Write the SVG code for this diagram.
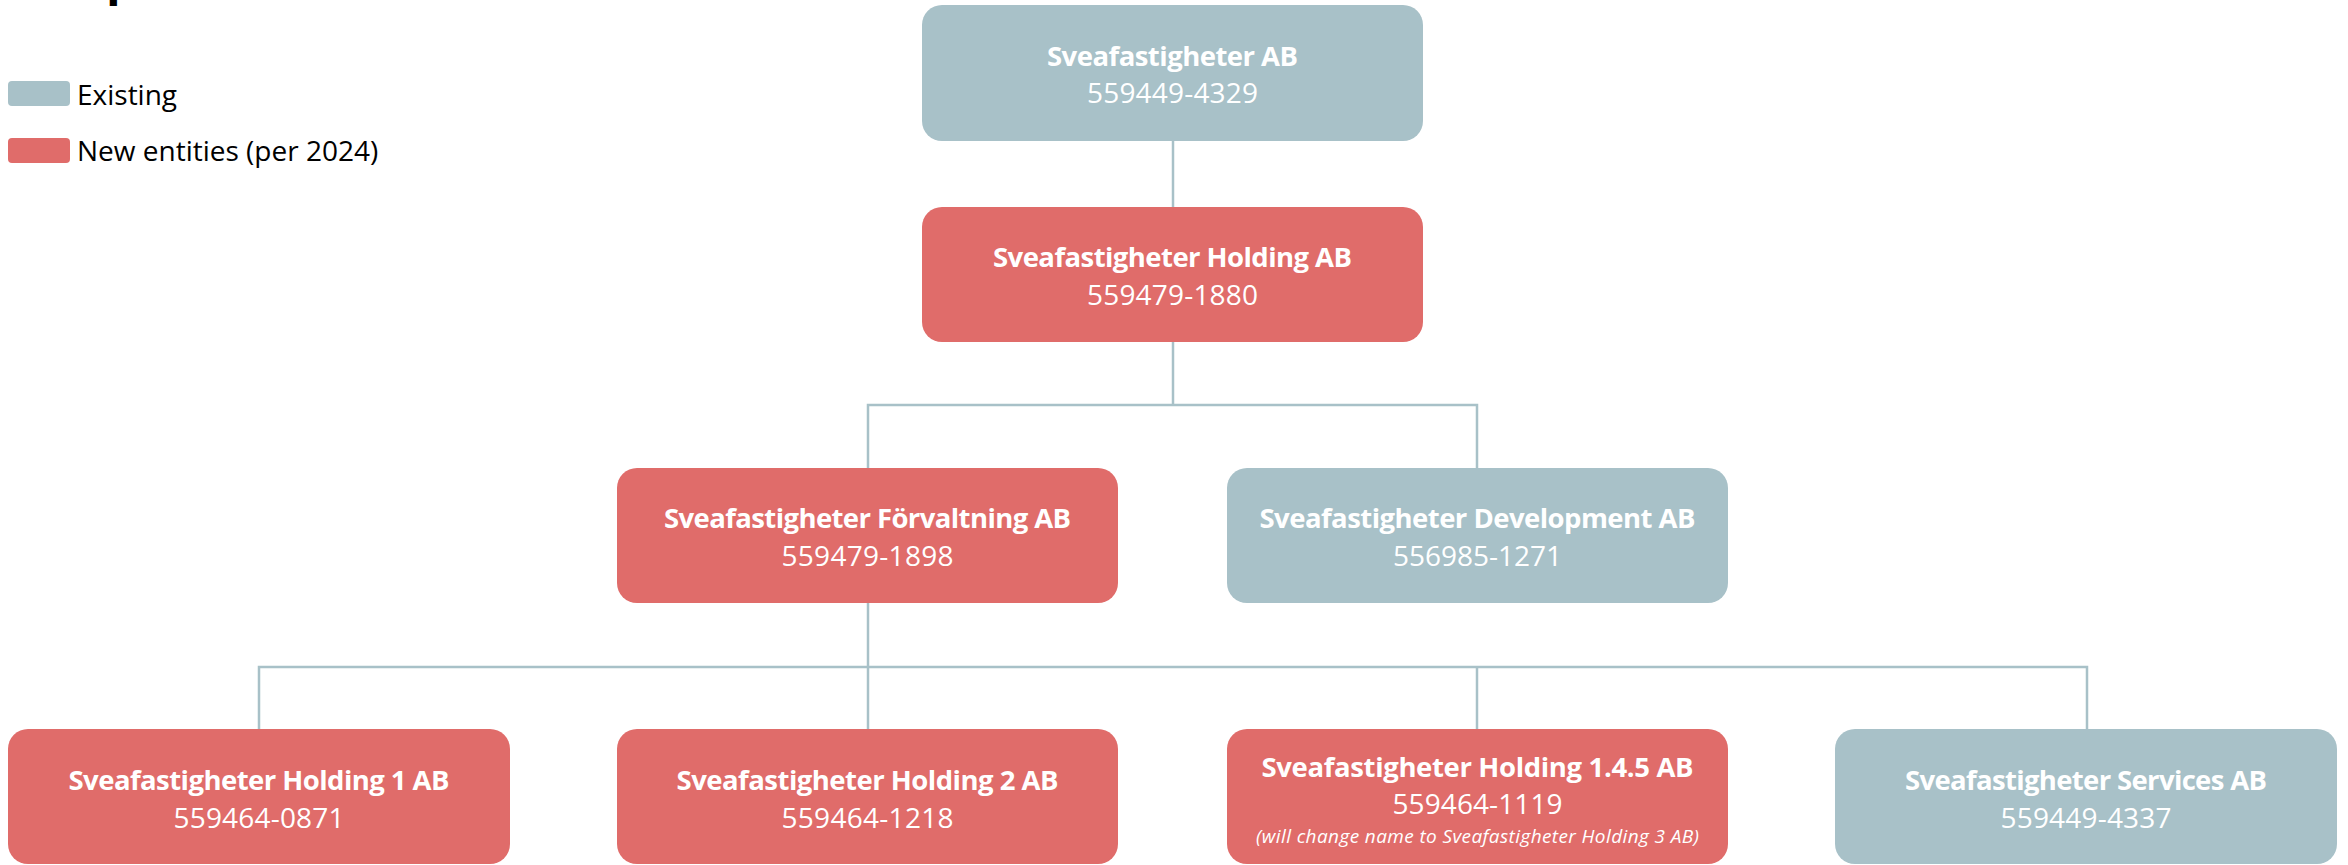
<svg xmlns="http://www.w3.org/2000/svg" width="2348" height="865" viewBox="0 0 2348 865">
<style>
.exist{fill:#A8C1C8}
.new{fill:#E06C6A}
.t{font-family:"Open Sans","Liberation Sans",sans-serif;fill:#FFFFFF;text-anchor:middle}
.title{font-weight:bold;font-size:27.5px}
.num{font-size:28px}
.note{font-style:italic;font-size:19px}
.leg{font-family:"Open Sans","Liberation Sans",sans-serif;font-size:28px;fill:#000000}
.conn{fill:none;stroke:#A8C1C8;stroke-width:2.5;stroke-linejoin:miter}
</style>
<rect width="2348" height="865" fill="#FFFFFF"/>
<text x="106" y="-6" font-family="'Open Sans','Liberation Sans',sans-serif" font-weight="bold" font-size="48" fill="#000000">p</text>
<g id="legend">
<rect class="exist" x="8" y="81" width="62" height="25" rx="4"/>
<text class="leg" x="77" y="105">Existing</text>
<rect class="new" x="8" y="138" width="62" height="25" rx="4"/>
<text class="leg" x="77" y="161">New entities (per 2024)</text>
</g>
<g id="connectors">
<path class="conn" d="M1173 141 V207"/>
<path class="conn" d="M1173 342 V405"/>
<path class="conn" d="M868 468 V405 H1477 V468"/>
<path class="conn" d="M868 603 V729"/>
<path class="conn" d="M259 729 V667 H2087 V729"/>
<path class="conn" d="M1477 667 V729"/>
</g>
<g id="node-sveafastigheter-ab">
<rect class="exist" x="922" y="5" width="501" height="136" rx="20"/>
<text class="t title" x="1172.5" y="66" textLength="251">Sveafastigheter AB</text>
<text class="t num" x="1172.5" y="103" textLength="171">559449-4329</text>
</g>
<g id="node-holding-ab">
<rect class="new" x="922" y="207" width="501" height="135" rx="20"/>
<text class="t title" x="1172.5" y="267" textLength="359">Sveafastigheter Holding AB</text>
<text class="t num" x="1172.5" y="305" textLength="171">559479-1880</text>
</g>
<g id="node-forvaltning-ab">
<rect class="new" x="617" y="468" width="501" height="135" rx="20"/>
<text class="t title" x="867.5" y="528" textLength="407">Sveafastigheter Förvaltning AB</text>
<text class="t num" x="867.5" y="566" textLength="172">559479-1898</text>
</g>
<g id="node-development-ab">
<rect class="exist" x="1227" y="468" width="501" height="135" rx="20"/>
<text class="t title" x="1477.5" y="528" textLength="436">Sveafastigheter Development AB</text>
<text class="t num" x="1477.5" y="566" textLength="169">556985-1271</text>
</g>
<g id="node-holding-1-ab">
<rect class="new" x="8" y="729" width="502" height="135" rx="20"/>
<text class="t title" x="259" y="790" textLength="381">Sveafastigheter Holding 1 AB</text>
<text class="t num" x="259" y="828" textLength="171">559464-0871</text>
</g>
<g id="node-holding-2-ab">
<rect class="new" x="617" y="729" width="501" height="135" rx="20"/>
<text class="t title" x="867.5" y="790" textLength="382">Sveafastigheter Holding 2 AB</text>
<text class="t num" x="867.5" y="828" textLength="172">559464-1218</text>
</g>
<g id="node-holding-145-ab">
<rect class="new" x="1227" y="729" width="501" height="135" rx="20"/>
<text class="t title" x="1477.5" y="777" textLength="432">Sveafastigheter Holding 1.4.5 AB</text>
<text class="t num" x="1477.5" y="814" textLength="170">559464-1119</text>
<text class="t note" x="1477.5" y="843" textLength="443">(will change name to Sveafastigheter Holding 3 AB)</text>
</g>
<g id="node-services-ab">
<rect class="exist" x="1835" y="729" width="502" height="135" rx="20"/>
<text class="t title" x="2086" y="790" textLength="362">Sveafastigheter Services AB</text>
<text class="t num" x="2086" y="828" textLength="171">559449-4337</text>
</g>
</svg>
